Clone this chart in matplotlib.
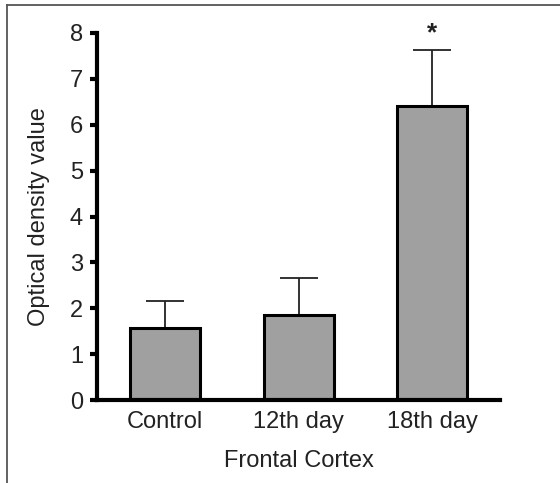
import matplotlib.pyplot as plt
from matplotlib.lines import Line2D

groups = ["Control", "12th day", "18th day"]
means = [1.58, 1.85, 6.40]
errors = [0.58, 0.80, 1.24]
signif = ["", "", "*"]

plt.rcParams['font.family'] = ['Liberation Sans', 'DejaVu Sans']

fig = plt.figure(figsize=(5.6, 4.83), dpi=100)
ax = fig.add_axes([0.1732, 0.1718, 0.7198, 0.7599])

x = range(len(groups))
ax.bar(x, means, width=0.524, color='#a0a0a0', edgecolor='black', linewidth=2.2, zorder=2)
# one-sided (upper) error bars
ax.errorbar(x, means, yerr=[[0]*len(means), errors], fmt='none', ecolor='#222222',
            elinewidth=1.3, capsize=14, capthick=1.3, zorder=1)

for xi, m, e, s in zip(x, means, errors, signif):
    if s:
        ax.text(xi, m + e + 0.1, s, ha='center', va='bottom', fontsize=19,
                fontweight='bold', color='#222222')

ax.set_xlim(-0.51, 2.51)
ax.set_ylim(0, 8)
ax.set_yticks(range(0, 9))
ax.set_xticks(list(x))
ax.set_xticklabels(groups)

for side in ['top', 'right']:
    ax.spines[side].set_visible(False)
for side in ['left', 'bottom']:
    ax.spines[side].set_linewidth(3)
ax.tick_params(axis='y', length=5, width=3, labelsize=17, labelcolor='#222222', pad=5)
ax.tick_params(axis='x', length=0, labelsize=17, labelcolor='#222222', pad=8)

ax.set_ylabel('Optical density value', fontsize=17, color='#222222', labelpad=14)
ax.set_xlabel('Frontal Cortex', fontsize=17, color='#222222', labelpad=12)

# outer frame (top and left edges only)
fig.add_artist(Line2D([6.5/560, 1], [1-4.5/483]*2, transform=fig.transFigure, color='#555555', lw=1.3))
fig.add_artist(Line2D([6.5/560]*2, [0, 1-4.5/483], transform=fig.transFigure, color='#555555', lw=1.3))

fig.savefig('out.png', dpi=100)
